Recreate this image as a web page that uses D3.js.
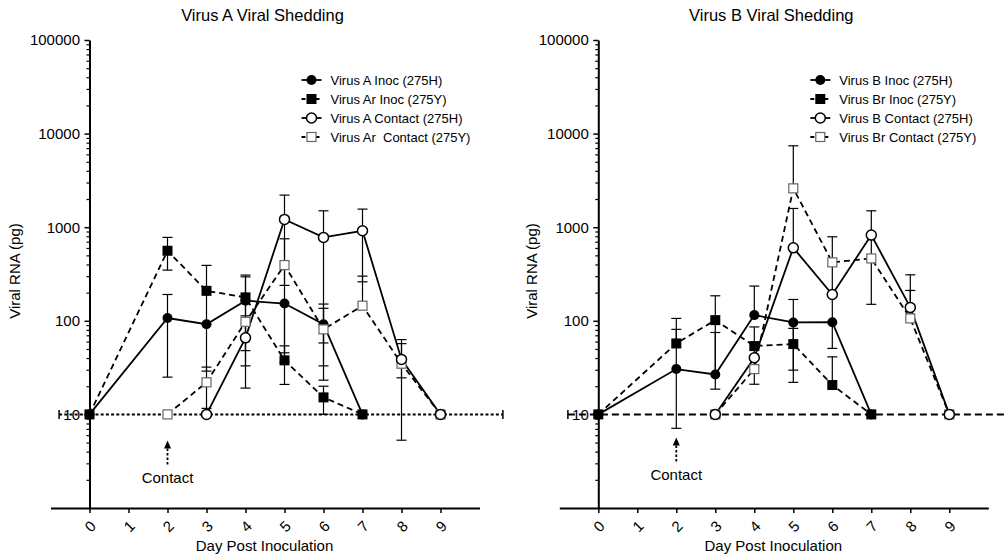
<!DOCTYPE html>
<html>
<head>
<meta charset="utf-8">
<script src="https://cdn.jsdelivr.net/npm/d3@7"></script>
<style>
  body { margin: 0; background: #fff; }
  svg { display: block; font-family: "Liberation Sans", Arial, sans-serif; }
</style>
</head>
<body>
<svg id="chart" width="1004" height="557"></svg>
<script>
// day index 0..9, null = no point
const days = [0, 1, 2, 3, 4, 5, 6, 7, 8, 9];
const yMajorTicks = [10, 100, 1000, 10000, 100000];
const contactDay = 2;
const lodValue = 10;

// Virus A
const aInocMean = [10, null, 107, 92, 164, 153, 92, 10, null, null];
const aInocHi   = [null, null, 191, null, 295, null, 151, null, null, null];
const aInocLo   = [null, null, 25, null, 33, 45.5, 33, null, null, null];
const arInocMean = [10, null, 560, 209, 178, 37.8, 15.2, 10, null, null];
const arInocHi   = [null, null, 778, 391, 308, 54, 20, null, null, null];
const arInocLo   = [null, null, 348, 29, 48, 20.9, 10, null, null, null];
const aContMean = [null, null, null, 10, 65.8, 1211, 778, 916, 38.7, 10];
const aContHi   = [null, null, null, null, 113, 2203, 1497, 1561, 63, null];
const aContLo   = [null, null, null, null, 19.1, 239, 58, 261, 5.3, null];
const arContMean = [null, null, 10, 22, 97.5, 394, 81, 145, 34.8, 10];
const arContHi   = [null, null, null, 32, null, 752, 136, 300, 57, null];
const arContLo   = [null, null, null, 11.6, null, 36, 23.2, null, 24.6, null];

// Virus B
const bInocMean = [10, null, 30.5, 26.7, 115, 96, 96.5, 10, null, null];
const bInocHi   = [null, null, 81, 75, 235, 169, null, null, null, null];
const bInocLo   = [null, null, 7.1, null, null, 22, null, null, null, null];
const brInocMean = [10, null, 57.3, 101.7, 53.7, 56.4, 20.6, 10, null, null];
const brInocHi   = [null, null, 106, 185, 86, 83, 41.2, null, null, null];
const brInocLo   = [null, null, null, 18.6, 21, 29.7, null, null, null, null];
const bContMean = [null, null, null, 10, 40.3, 602, 191, 824, 139, 10];
const bContHi   = [null, null, null, null, null, 1586, null, 1497, 310, null];
const bContLo   = [null, null, null, null, null, null, null, 150, null, null];
const brContMean = [null, null, null, 10, 30.5, 2600, 421, 464, 106, 10];
const brContHi   = [null, null, null, null, 33, 7410, 790, null, 211, null];
const brContLo   = [null, null, null, null, null, null, 50.7, null, null, null];

const yTop = 40, yBottom = 508, dayW = 39;
const svg = d3.select("#chart");

function makeSeries(name, mean, hi, lo, marker, filled, dashed) {
  const pts = days
    .map((d, i) => ({ day: d, v: mean[i], hi: hi[i], lo: lo[i] }))
    .filter((p) => p.v != null);
  return { name, pts, marker, filled, dashed };
}

const panelA = {
  x0: 89.5,
  title: "Virus A Viral Shedding",
  yLabelX: 20,
  lodDash: "3,2.2",
  contactShift: 0,
  series: [
    makeSeries("Virus A Inoc (275H)", aInocMean, aInocHi, aInocLo, "circle", true, false),
    makeSeries("Virus Ar Inoc (275Y)", arInocMean, arInocHi, arInocLo, "square", true, true),
    makeSeries("Virus A Contact (275H)", aContMean, aContHi, aContLo, "circle", false, false),
    makeSeries("Virus Ar  Contact (275Y)", arContMean, arContHi, arContLo, "square", false, true),
  ],
};

const panelB = {
  x0: 598.3,
  title: "Virus B Viral Shedding",
  yLabelX: 537,
  lodDash: "7,4",
  contactShift: -3,
  series: [
    makeSeries("Virus B Inoc (275H)", bInocMean, bInocHi, bInocLo, "circle", true, false),
    makeSeries("Virus Br Inoc (275Y)", brInocMean, brInocHi, brInocLo, "square", true, true),
    makeSeries("Virus B Contact (275H)", bContMean, bContHi, bContLo, "circle", false, false),
    makeSeries("Virus Br Contact (275Y)", brContMean, brContHi, brContLo, "square", false, true),
  ],
};

function drawMarker(g, s, cx, cy, size) {
  if (s.marker === "circle") {
    g.append("circle")
      .attr("cx", cx)
      .attr("cy", cy)
      .attr("r", size / 2)
      .attr("fill", s.filled ? "#000" : "#fff")
      .attr("stroke", "#000")
      .attr("stroke-width", s.filled ? 0 : 1.5);
  } else {
    const sz = s.filled ? size : size - 1;
    g.append("rect")
      .attr("x", cx - sz / 2)
      .attr("y", cy - sz / 2)
      .attr("width", sz)
      .attr("height", sz)
      .attr("fill", s.filled ? "#000" : "#fff")
      .attr("stroke", s.filled ? "none" : "#666")
      .attr("stroke-width", 1.2);
  }
}

function drawPanel(p) {
  const g = svg.append("g");
  const x = d3
    .scaleLinear()
    .domain([-1, 10])
    .range([p.x0 - dayW, p.x0 + 10 * dayW]);
  const y = d3.scaleLog().domain([1, 100000]).range([yBottom, yTop]);

  // title
  g.append("text")
    .attr("x", p.x0 + 173)
    .attr("y", 21)
    .attr("text-anchor", "middle")
    .attr("font-size", "16.5px")
    .text(p.title);

  // minor y ticks
  g.append("g")
    .attr("transform", `translate(${p.x0},0)`)
    .call(
      d3
        .axisLeft(y)
        .tickValues(y.ticks().filter((v) => Math.abs(Math.log10(v) % 1) > 1e-6))
        .tickSize(3)
        .tickFormat("")
        .tickSizeOuter(0)
    )
    .call((a) => a.select(".domain").remove())
    .selectAll("line")
    .attr("stroke-width", 1.2);

  // major y axis
  const yAxis = g
    .append("g")
    .attr("transform", `translate(${p.x0},0)`)
    .call(
      d3
        .axisLeft(y)
        .tickValues(yMajorTicks)
        .tickSize(5)
        .tickPadding(4.5)
        .tickFormat(d3.format("d"))
        .tickSizeOuter(0)
    )
    .attr("font-family", null)
    .attr("font-size", "15px");
  yAxis.select(".domain").attr("stroke-width", 2);
  yAxis.selectAll(".tick line").attr("stroke-width", 1.5);

  // x axis
  const xAxis = g
    .append("g")
    .attr("transform", `translate(0,${yBottom})`)
    .call(d3.axisBottom(x).tickValues(days).tickSize(5).tickSizeOuter(0))
    .attr("font-family", null)
    .attr("font-size", "15px");
  xAxis.select(".domain").attr("stroke-width", 2);
  xAxis.selectAll(".tick line").attr("stroke-width", 1.5);
  xAxis
    .selectAll("text")
    .attr("y", null)
    .attr("dy", null)
    .attr("text-anchor", "middle")
    .attr("transform", "translate(4,22) rotate(-45)");

  // axis labels
  g.append("text")
    .attr("x", p.x0 + 175)
    .attr("y", 551)
    .attr("text-anchor", "middle")
    .attr("font-size", "15px")
    .text("Day Post Inoculation");

  g.append("text")
    .attr("transform", `translate(${p.yLabelX},271) rotate(-90)`)
    .attr("text-anchor", "middle")
    .attr("font-size", "15px")
    .text("Viral RNA (pg)");

  // limit line at 10
  const ly = y(lodValue);
  const lx1 = x(-0.78), lx2 = x(10.6);
  g.append("line")
    .attr("x1", lx1)
    .attr("x2", lx2)
    .attr("y1", ly)
    .attr("y2", ly)
    .attr("stroke", "#000")
    .attr("stroke-width", 2)
    .attr("stroke-dasharray", p.lodDash);
  [lx1, lx2].forEach((lx) => {
    g.append("line")
      .attr("x1", lx)
      .attr("x2", lx)
      .attr("y1", ly - 4.5)
      .attr("y2", ly + 4.5)
      .attr("stroke", "#000")
      .attr("stroke-width", 1.5);
  });

  // error bars
  p.series.forEach((s) => {
    s.pts.forEach((d) => {
      [d.hi, d.lo].forEach((e) => {
        if (e == null) return;
        g.append("line")
          .attr("x1", x(d.day))
          .attr("x2", x(d.day))
          .attr("y1", y(d.v))
          .attr("y2", y(e))
          .attr("stroke", "#000")
          .attr("stroke-width", 1.2);
        g.append("line")
          .attr("x1", x(d.day) - 5)
          .attr("x2", x(d.day) + 5)
          .attr("y1", y(e))
          .attr("y2", y(e))
          .attr("stroke", "#000")
          .attr("stroke-width", 1.2);
      });
    });
  });

  // lines
  const line = d3
    .line()
    .x((d) => x(d.day))
    .y((d) => y(d.v));
  p.series.forEach((s) => {
    g.append("path")
      .datum(s.pts)
      .attr("fill", "none")
      .attr("stroke", "#000")
      .attr("stroke-width", 1.8)
      .attr("stroke-dasharray", s.dashed ? "6,4" : null)
      .attr("d", line);
  });

  // markers (contact 275H on top)
  [0, 1, 3, 2].forEach((k) => {
    const s = p.series[k];
    s.pts.forEach((d) => drawMarker(g, s, x(d.day), y(d.v), 10));
  });

  // legend
  const lg = g.append("g");
  p.series.forEach((s, i) => {
    const ry = 80 + i * 19;
    const cx = p.x0 + 222;
    lg.append("line")
      .attr("x1", cx - 10)
      .attr("x2", cx + 10)
      .attr("y1", ry)
      .attr("y2", ry)
      .attr("stroke", "#000")
      .attr("stroke-width", 1.8)
      .attr("stroke-dasharray", s.dashed ? "4,3" : null);
    drawMarker(lg, s, cx, ry, 10);
    lg.append("text")
      .attr("x", p.x0 + 241)
      .attr("y", ry)
      .attr("dy", "0.35em")
      .attr("font-size", "13px")
      .style("white-space", "pre")
      .text(s.name);
  });

  // contact arrow
  const ax = x(contactDay);
  const tip = ly + 26 + p.contactShift;
  g.append("line")
    .attr("x1", ax)
    .attr("x2", ax)
    .attr("y1", tip + 24)
    .attr("y2", tip + 6)
    .attr("stroke", "#000")
    .attr("stroke-width", 1.8)
    .attr("stroke-dasharray", "2.5,2");
  g.append("path")
    .attr("d", `M${ax},${tip}L${ax - 3.5},${tip + 8}L${ax + 3.5},${tip + 8}Z`)
    .attr("fill", "#000");
  g.append("text")
    .attr("x", ax)
    .attr("y", tip + 43)
    .attr("text-anchor", "middle")
    .attr("font-size", "15px")
    .text("Contact");
}

drawPanel(panelA);
drawPanel(panelB);
</script>
</body>
</html>
